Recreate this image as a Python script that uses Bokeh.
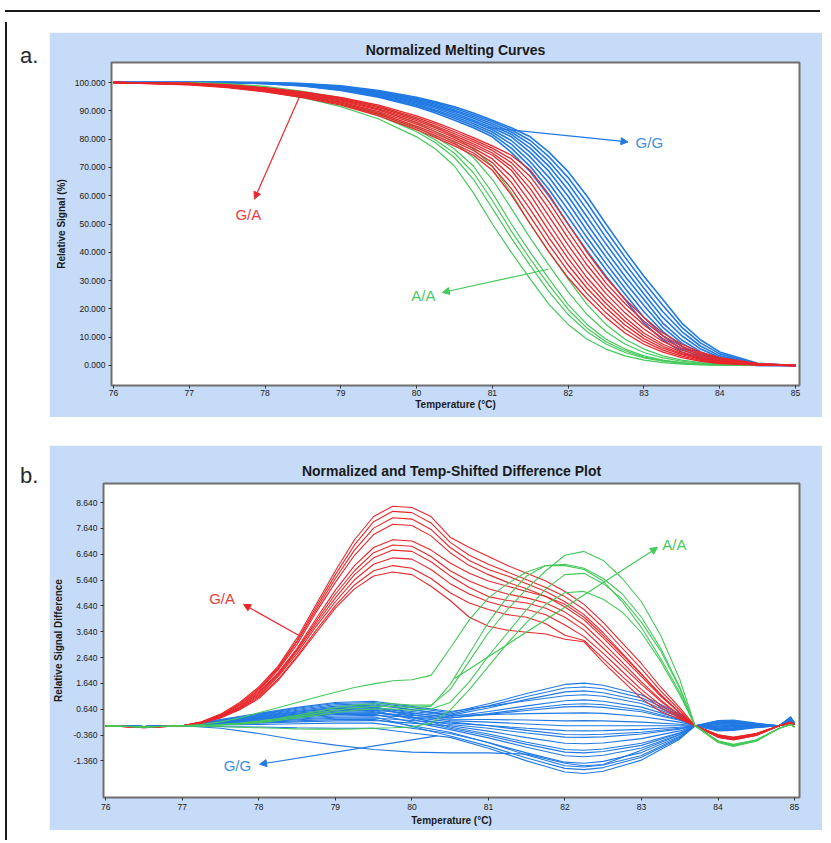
from bokeh.plotting import figure
from bokeh.models import (FixedTicker, PrintfTickFormatter, Label, Arrow, NormalHead,
                          Div, Spacer, Range1d)
from bokeh.layouts import column, row
from bokeh.embed import file_html
from bokeh.resources import INLINE

# ---------------- data: panel a (normalized melting curves) ----------------
TA = [76.0, 77.0, 77.5, 78.0, 78.5, 79.0, 79.5, 80.0, 80.25, 80.5, 80.75, 81.0, 81.25,
      81.5, 81.75, 82.0, 82.25, 82.5, 82.75, 83.0, 83.25, 83.5, 83.75, 84.0, 84.5, 85.0]

A_GG = [
    [100, 100, 100, 99.6, 98.8, 97.2, 94.8, 91.4, 89.2, 86.7, 84.0, 80.8, 75.3, 68.5, 59.8, 50.0, 40.5, 31.5, 23.3, 15.0, 9.0, 4.8, 2.2, 0.8, 0.0, 0.0],
    [100, 100, 100, 99.7, 98.9, 97.4, 95.1, 91.9, 89.8, 87.4, 84.7, 81.7, 76.8, 70.3, 62.1, 52.5, 42.9, 33.8, 25.3, 17.0, 10.5, 5.8, 2.8, 1.1, 0.0, 0.0],
    [100, 100, 100, 99.7, 99.0, 97.6, 95.4, 92.3, 90.3, 88.0, 85.4, 82.5, 78.2, 72.0, 64.3, 55.0, 45.2, 36.0, 27.3, 19.0, 12.0, 6.8, 3.4, 1.4, 0.1, 0.0],
    [100, 100, 100, 99.8, 99.1, 97.8, 95.7, 92.8, 90.9, 88.6, 86.1, 83.3, 79.5, 73.7, 66.4, 57.4, 47.6, 38.3, 29.4, 21.2, 13.5, 7.9, 4.1, 1.8, 0.2, 0.0],
    [100, 100, 100, 99.8, 99.2, 98.0, 96.0, 93.2, 91.4, 89.2, 86.7, 84.0, 80.8, 75.3, 68.5, 59.8, 50.0, 40.5, 31.5, 23.3, 15.0, 9.0, 4.8, 2.2, 0.2, 0.0],
    [100, 100, 100, 99.9, 99.3, 98.2, 96.3, 93.6, 91.9, 89.8, 87.4, 84.7, 81.7, 76.8, 70.3, 62.1, 52.5, 42.9, 33.8, 25.3, 17.0, 10.5, 5.8, 2.8, 0.3, 0.0],
    [100, 100, 100, 99.9, 99.4, 98.4, 96.6, 94.0, 92.3, 90.3, 88.0, 85.4, 82.5, 78.2, 72.0, 64.3, 55.0, 45.2, 36.0, 27.3, 19.0, 12.0, 6.8, 3.4, 0.4, 0.0],
    [100, 100, 100, 100, 99.5, 98.6, 96.9, 94.4, 92.8, 90.9, 88.6, 86.1, 83.3, 79.5, 73.7, 66.4, 57.4, 47.6, 38.3, 29.4, 21.2, 13.5, 7.9, 4.1, 0.6, 0.0],
    [100, 100, 100, 100, 99.6, 98.8, 97.2, 94.8, 93.2, 91.4, 89.2, 86.7, 84.0, 80.8, 75.3, 68.5, 59.8, 50.0, 40.5, 31.5, 23.3, 15.0, 9.0, 4.8, 0.8, 0.0],
]

A_GA = [
    [100, 99.2, 98.2, 96.7, 94.7, 92.0, 88.2, 83.3, 80.5, 77.6, 74.3, 69.0, 60.3, 50.0, 40.0, 31.0, 23.5, 17.0, 11.5, 7.5, 4.7, 2.8, 1.5, 0.7, 0.1, 0.0],
    [100, 99.3, 98.4, 96.9, 95.0, 92.4, 88.7, 84.0, 81.2, 78.3, 75.1, 70.3, 62.5, 52.6, 42.5, 33.3, 25.4, 18.6, 12.9, 8.5, 5.4, 3.3, 1.8, 0.9, 0.2, 0.0],
    [100, 99.4, 98.5, 97.1, 95.3, 92.8, 89.2, 84.6, 81.9, 79.1, 76.0, 71.7, 64.7, 55.2, 45.0, 35.5, 27.3, 20.3, 14.3, 9.5, 6.1, 3.8, 2.2, 1.1, 0.2, 0.0],
    [100, 99.4, 98.7, 97.3, 95.5, 93.1, 89.7, 85.3, 82.6, 79.8, 76.8, 73.0, 66.8, 57.7, 47.5, 37.8, 29.1, 21.9, 15.6, 10.5, 6.8, 4.2, 2.5, 1.3, 0.3, 0.0],
    [100, 99.5, 98.8, 97.5, 95.8, 93.5, 90.2, 85.9, 83.3, 80.5, 77.6, 74.3, 69.0, 60.3, 50.0, 40.0, 31.0, 23.5, 17.0, 11.5, 7.5, 4.7, 2.8, 1.5, 0.3, 0.0],
    [100, 99.6, 98.9, 97.7, 96.0, 93.8, 90.7, 86.5, 84.0, 81.2, 78.3, 75.1, 70.3, 62.5, 52.6, 42.5, 33.3, 25.4, 18.6, 12.9, 8.5, 5.4, 3.3, 1.8, 0.4, 0.0],
    [100, 99.7, 99.0, 97.9, 96.3, 94.1, 91.1, 87.1, 84.6, 81.9, 79.1, 76.0, 71.7, 64.7, 55.2, 45.0, 35.5, 27.3, 20.3, 14.3, 9.5, 6.1, 3.8, 2.2, 0.5, 0.0],
    [100, 99.7, 99.1, 98.0, 96.5, 94.4, 91.6, 87.6, 85.3, 82.6, 79.8, 76.8, 73.0, 66.8, 57.7, 47.5, 37.8, 29.1, 21.9, 15.6, 10.5, 6.8, 4.2, 2.5, 0.6, 0.0],
    [100, 99.8, 99.2, 98.2, 96.7, 94.7, 92.0, 88.2, 85.9, 83.3, 80.5, 77.6, 74.3, 69.0, 60.3, 50.0, 40.0, 31.0, 23.5, 17.0, 11.5, 7.5, 4.7, 2.8, 0.7, 0.0],
]

A_AA = [
    [100, 99.6, 98.6, 96.9, 94.6, 91.5, 87.1, 80.8, 76.5, 70.5, 61.0, 50.0, 40.0, 30.5, 21.5, 14.5, 9.3, 5.8, 3.4, 1.9, 1.0, 0.5, 0.2, 0.1, 0.0, 0.0],
    [100, 99.8, 98.9, 97.4, 95.2, 92.4, 88.3, 82.6, 78.7, 73.5, 65.8, 55.5, 45.0, 35.3, 26.0, 18.0, 11.9, 7.6, 4.6, 2.7, 1.5, 0.8, 0.4, 0.2, 0.0, 0.0],
    [100, 99.8, 99.1, 97.6, 95.5, 92.8, 88.9, 83.4, 79.7, 75.0, 68.1, 58.3, 47.5, 37.6, 28.3, 19.8, 13.2, 8.4, 5.2, 3.0, 1.7, 0.9, 0.4, 0.2, 0.0, 0.0],
    [100, 99.9, 99.2, 97.8, 95.8, 93.2, 89.5, 84.3, 80.8, 76.5, 70.5, 61.0, 50.0, 40.0, 30.5, 21.5, 14.5, 9.3, 5.8, 3.4, 1.9, 1.0, 0.5, 0.2, 0.0, 0.0],
    [100, 100, 99.4, 98.2, 96.4, 93.9, 90.5, 85.7, 82.6, 78.7, 73.5, 65.8, 55.5, 45.0, 35.3, 26.0, 18.0, 11.9, 7.6, 4.6, 2.7, 1.5, 0.8, 0.4, 0.1, 0.0],
    [100, 100, 99.6, 98.6, 96.9, 94.6, 91.5, 87.1, 84.3, 80.8, 76.5, 70.5, 61.0, 50.0, 40.0, 30.5, 21.5, 14.5, 9.3, 5.8, 3.4, 1.9, 1.0, 0.5, 0.1, 0.0],
]

# ---------------- data: panel b (difference plot) ----------------
TB = [76.0, 76.5, 77.0, 77.25, 77.5, 77.75, 78.0, 78.25, 78.5, 78.75, 79.0, 79.25, 79.5,
      79.75, 80.0, 80.25, 80.5, 80.75, 81.0, 81.25, 81.5, 81.75, 82.0, 82.25, 82.5, 82.75,
      83.0, 83.25, 83.5, 83.7, 84.0, 84.2, 84.5, 84.8, 84.95, 85.0]

B_GA = [
    [0.0, -0.05, 0.0, 0.15, 0.45, 0.9, 1.5, 2.3, 3.4, 4.7, 6.0, 7.2, 8.1, 8.5, 8.45, 8.1, 7.3, 6.9, 6.55, 6.2, 5.9, 5.6, 5.2, 4.7, 4.0, 3.2, 2.4, 1.5, 0.7, 0.0, -0.35, -0.45, -0.3, 0.0, 0.15, 0.05],
    [0.0, -0.05, 0.0, 0.14, 0.42, 0.85, 1.45, 2.25, 3.3, 4.6, 5.85, 7.0, 7.9, 8.3, 8.25, 7.85, 7.1, 6.6, 6.25, 5.95, 5.65, 5.35, 5.0, 4.5, 3.8, 3.0, 2.2, 1.35, 0.6, 0.0, -0.35, -0.45, -0.3, 0.0, 0.12, 0.05],
    [0.0, -0.05, 0.0, 0.13, 0.4, 0.8, 1.4, 2.2, 3.25, 4.5, 5.7, 6.8, 7.65, 8.05, 8.0, 7.6, 6.9, 6.4, 6.05, 5.8, 5.5, 5.2, 4.8, 4.3, 3.6, 2.8, 2.0, 1.2, 0.5, 0.0, -0.38, -0.48, -0.32, 0.0, 0.12, 0.05],
    [0.0, -0.06, 0.0, 0.13, 0.4, 0.8, 1.35, 2.15, 3.15, 4.4, 5.55, 6.6, 7.4, 7.8, 7.75, 7.35, 6.7, 6.2, 5.85, 5.55, 5.3, 5.0, 4.6, 4.1, 3.4, 2.65, 1.9, 1.15, 0.5, 0.0, -0.38, -0.48, -0.32, 0.0, 0.1, 0.05],
    [0.0, -0.06, 0.0, 0.12, 0.38, 0.75, 1.3, 2.05, 3.0, 4.15, 5.25, 6.2, 6.9, 7.2, 7.15, 6.8, 6.3, 5.9, 5.6, 5.4, 5.2, 5.0, 4.7, 4.2, 3.5, 2.75, 2.0, 1.2, 0.5, 0.0, -0.4, -0.5, -0.35, 0.0, 0.1, 0.05],
    [0.0, -0.06, 0.0, 0.12, 0.36, 0.72, 1.25, 2.0, 2.95, 4.05, 5.1, 6.0, 6.7, 7.0, 6.95, 6.55, 6.0, 5.6, 5.3, 5.1, 4.95, 4.75, 4.4, 3.9, 3.2, 2.45, 1.7, 1.0, 0.4, 0.0, -0.4, -0.5, -0.35, 0.0, 0.1, 0.05],
    [0.0, -0.07, 0.0, 0.11, 0.35, 0.7, 1.2, 1.95, 2.9, 3.95, 4.95, 5.85, 6.5, 6.8, 6.75, 6.35, 5.8, 5.35, 5.0, 4.85, 4.75, 4.55, 4.2, 3.7, 3.0, 2.3, 1.6, 0.95, 0.4, 0.0, -0.42, -0.52, -0.36, 0.0, 0.1, 0.05],
    [0.0, -0.07, 0.0, 0.11, 0.34, 0.68, 1.15, 1.9, 2.8, 3.85, 4.8, 5.65, 6.25, 6.5, 6.45, 6.05, 5.5, 5.1, 4.8, 4.6, 4.5, 4.3, 3.9, 3.45, 2.8, 2.1, 1.4, 0.8, 0.35, 0.0, -0.42, -0.52, -0.36, 0.0, 0.1, 0.05],
    [0.0, -0.08, 0.0, 0.1, 0.32, 0.65, 1.1, 1.8, 2.7, 3.7, 4.65, 5.45, 6.0, 6.2, 6.1, 5.7, 5.15, 4.75, 4.5, 4.3, 4.2, 3.95, 3.5, 3.3, 2.6, 1.9, 1.25, 0.7, 0.3, 0.0, -0.44, -0.54, -0.38, 0.0, 0.1, 0.05],
    [0.0, -0.08, 0.0, 0.1, 0.3, 0.62, 1.05, 1.75, 2.65, 3.6, 4.55, 5.3, 5.8, 5.95, 5.85, 5.4, 4.85, 4.2, 3.85, 3.7, 3.62, 3.55, 3.35, 3.25, 2.45, 1.75, 1.05, 0.55, 0.25, 0.0, -0.45, -0.55, -0.38, 0.0, 0.1, 0.05],
]

B_AA = [
    [0.0, -0.05, 0.0, 0.05, 0.15, 0.3, 0.5, 0.7, 0.9, 1.1, 1.3, 1.48, 1.62, 1.74, 1.78, 1.95, 3.0, 4.1, 4.95, 5.5, 5.95, 6.2, 6.2, 6.05, 5.6, 4.8, 3.8, 2.6, 1.3, 0.0, -0.6, -0.75, -0.55, -0.1, 0.05, -0.05],
    [0.0, -0.05, 0.0, 0.0, 0.05, 0.1, 0.18, 0.28, 0.4, 0.55, 0.7, 0.8, 0.85, 0.85, 0.8, 0.8, 1.4, 2.5, 3.6, 4.5, 5.3, 6.0, 6.6, 6.75, 6.4, 5.7, 4.8, 3.5, 1.8, 0.0, -0.65, -0.8, -0.6, -0.1, 0.05, -0.05],
    [0.0, -0.05, 0.0, 0.0, 0.04, 0.08, 0.15, 0.24, 0.35, 0.48, 0.6, 0.7, 0.75, 0.75, 0.7, 0.75, 1.6, 2.8, 4.0, 5.0, 5.8, 6.2, 6.25, 6.1, 5.7, 5.1, 4.2, 3.0, 1.5, 0.0, -0.62, -0.78, -0.58, -0.1, 0.05, -0.05],
    [0.0, -0.05, 0.0, 0.0, 0.03, 0.07, 0.12, 0.2, 0.3, 0.4, 0.5, 0.6, 0.65, 0.65, 0.6, 0.65, 0.9, 1.7, 2.7, 3.6, 4.5, 5.3, 5.85, 5.9, 5.5, 4.9, 4.0, 2.9, 1.45, 0.0, -0.6, -0.75, -0.55, -0.1, 0.05, -0.05],
    [0.0, -0.05, 0.0, -0.02, -0.04, -0.06, -0.08, -0.1, -0.12, -0.13, -0.13, -0.12, -0.1, -0.08, -0.05, 0.1, 0.6, 1.4, 2.3, 3.2, 4.0, 4.7, 5.15, 5.2, 4.9, 4.4, 3.6, 2.5, 1.2, 0.0, -0.58, -0.72, -0.55, -0.1, 0.05, -0.05],
]

TBB = [76.0, 76.5, 77.0, 77.5, 78.0, 78.5, 79.0, 79.5, 80.0, 80.5, 81.0, 81.5, 82.0, 82.25,
       82.5, 83.0, 83.5, 83.7, 84.0, 84.2, 84.5, 84.8, 84.95, 85.0]

B_GG = [
    [0.0, -0.03, 0.0, 0.23, 0.45, 0.68, 0.86, 0.9, 0.7, 0.5, 0.85, 1.25, 1.6, 1.65, 1.57, 1.19, 0.46, 0.0, 0.2, 0.22, 0.1, 0.0, 0.35, 0.1],
    [0.0, -0.03, 0.0, 0.2, 0.4, 0.6, 0.76, 0.8, 0.62, 0.45, 0.77, 1.13, 1.46, 1.5, 1.43, 1.08, 0.42, 0.0, 0.18, 0.2, 0.08, 0.0, 0.3, 0.1],
    [0.0, -0.03, 0.0, 0.18, 0.35, 0.53, 0.67, 0.7, 0.55, 0.4, 0.69, 1.02, 1.31, 1.35, 1.28, 0.97, 0.38, 0.0, 0.15, 0.17, 0.07, 0.0, 0.32, 0.1],
    [0.0, -0.03, 0.0, 0.24, 0.48, 0.71, 0.9, 0.95, 0.75, 0.55, 0.75, 0.97, 1.16, 1.2, 1.14, 0.86, 0.34, 0.0, 0.12, 0.15, 0.05, 0.0, 0.28, 0.1],
    [0.0, -0.03, 0.0, 0.18, 0.35, 0.53, 0.67, 0.7, 0.5, 0.3, 0.47, 0.66, 0.82, 0.85, 0.81, 0.61, 0.24, 0.0, 0.1, 0.12, 0.05, 0.0, 0.3, 0.1],
    [0.0, -0.03, 0.0, 0.15, 0.3, 0.45, 0.57, 0.6, 0.48, 0.35, 0.55, 0.77, 0.97, 1.0, 0.95, 0.72, 0.28, 0.0, 0.1, 0.12, 0.05, 0.0, 0.3, 0.1],
    [0.0, -0.03, 0.0, 0.13, 0.25, 0.38, 0.48, 0.5, 0.4, 0.3, 0.44, 0.59, 0.73, 0.75, 0.71, 0.54, 0.21, 0.0, 0.08, 0.1, 0.04, 0.0, 0.25, 0.1],
    [0.0, -0.03, 0.0, 0.21, 0.43, 0.64, 0.81, 0.85, 0.63, 0.4, 0.43, 0.47, 0.49, 0.5, 0.48, 0.36, 0.14, 0.0, 0.05, 0.08, 0.03, 0.0, 0.3, 0.1],
    [0.0, -0.03, 0.0, 0.1, 0.2, 0.3, 0.38, 0.4, 0.33, 0.25, 0.24, 0.22, 0.19, 0.2, 0.19, 0.14, 0.06, 0.0, 0.03, 0.05, 0.02, 0.0, 0.25, 0.1],
    [0.0, -0.03, 0.0, 0.16, 0.33, 0.49, 0.62, 0.65, 0.43, 0.2, 0.14, 0.07, 0.0, 0.0, 0.0, 0.0, 0.0, 0.0, 0.0, 0.02, 0.01, 0.0, 0.3, 0.1],
    [0.0, -0.03, 0.0, 0.08, 0.15, 0.23, 0.29, 0.3, 0.2, 0.1, 0.01, -0.1, -0.19, -0.2, -0.19, -0.14, -0.06, 0.0, -0.02, 0.0, 0.0, 0.0, 0.25, 0.1],
    [0.0, -0.03, 0.0, 0.13, 0.25, 0.38, 0.48, 0.5, 0.33, 0.15, 0.0, -0.18, -0.34, -0.35, -0.33, -0.25, -0.1, 0.0, -0.04, -0.02, 0.0, 0.0, 0.25, 0.1],
    [0.0, -0.03, 0.0, 0.14, 0.28, 0.41, 0.52, 0.55, 0.3, 0.05, -0.1, -0.28, -0.44, -0.45, -0.43, -0.32, -0.13, 0.0, -0.05, -0.03, -0.01, 0.0, 0.3, 0.1],
    [0.0, -0.03, 0.0, 0.05, 0.1, 0.15, 0.19, 0.2, 0.1, 0.0, -0.21, -0.46, -0.68, -0.7, -0.67, -0.5, -0.2, 0.0, -0.08, -0.06, -0.02, 0.0, 0.2, 0.1],
    [0.0, -0.03, 0.0, 0.19, 0.38, 0.56, 0.71, 0.75, 0.35, -0.05, -0.32, -0.64, -0.92, -0.95, -0.9, -0.68, -0.27, 0.0, -0.1, -0.08, -0.03, 0.0, 0.3, 0.1],
    [0.0, -0.03, 0.0, 0.15, 0.3, 0.45, 0.57, 0.6, 0.25, -0.1, -0.39, -0.72, -1.02, -1.05, -1.0, -0.76, -0.29, 0.0, -0.11, -0.09, -0.03, 0.0, 0.3, 0.1],
    [0.0, -0.03, 0.0, 0.11, 0.23, 0.34, 0.43, 0.45, 0.15, -0.15, -0.47, -0.83, -1.16, -1.2, -1.14, -0.86, -0.34, 0.0, -0.12, -0.1, -0.04, 0.0, 0.25, 0.1],
    [0.0, -0.03, 0.0, 0.03, 0.05, 0.08, 0.1, 0.1, -0.1, -0.3, -0.65, -1.05, -1.41, -1.45, -1.38, -1.04, -0.41, 0.0, -0.15, -0.12, -0.05, 0.0, 0.2, 0.1],
    [0.0, -0.03, 0.0, 0.06, 0.13, 0.19, 0.24, 0.25, 0.0, -0.25, -0.66, -1.13, -1.55, -1.6, -1.52, -1.15, -0.45, 0.0, -0.17, -0.14, -0.05, 0.0, 0.2, 0.1],
    [0.0, -0.03, 0.0, 0.09, 0.18, 0.26, 0.33, 0.35, -0.03, -0.4, -0.79, -1.25, -1.65, -1.7, -1.62, -1.22, -0.48, 0.0, -0.18, -0.15, -0.06, 0.0, 0.25, 0.1],
    [0.0, -0.03, 0.0, -0.03, -0.05, -0.08, -0.1, -0.1, -0.28, -0.45, -0.87, -1.36, -1.79, -1.85, -1.76, -1.33, -0.52, 0.0, -0.2, -0.18, -0.08, 0.0, 0.2, 0.1],
    [0.0, -0.03, 0.0, -0.1, -0.3, -0.55, -0.75, -0.92, -1.02, -1.05, -1.05, -1.1, -1.45, -1.55, -1.5, -0.95, -0.35, 0.0, -0.1, -0.12, -0.05, 0.0, 0.2, 0.1],
]

X_TICKS = [76, 77, 78, 79, 80, 81, 82, 83, 84, 85]
Y_TICKS_A = [0, 10, 20, 30, 40, 50, 60, 70, 80, 90, 100]
Y_TICKS_B = [-1.36, -0.36, 0.64, 1.64, 2.64, 3.64, 4.64, 5.64, 6.64, 7.64, 8.64]

TITLE_A = "Normalized Melting Curves"
TITLE_B = "Normalized and Temp-Shifted Difference Plot"
XLABEL = "Temperature (\u00b0C)"
YLABEL_A = "Relative Signal (%)"
YLABEL_B = "Relative Signal Difference"

# ---------------- style ----------------
FONT = "Liberation Sans"
BG = "#c6dbf7"
C_GG = "#2179e3"
C_GA = "#e8262b"
C_AA = "#45c95b"
T_GG = "#3c8ee8"
T_GA = "#ea3b3b"
T_AA = "#48c95e"


def make_fig(title, xr, yr, yticks, yfmt, ylabel, bl, br, bt, bb,
             ylab_standoff, title_standoff, xtick_standoff, xlab_standoff):
    p = figure(width=773, height=385, x_range=Range1d(*xr), y_range=Range1d(*yr),
               output_backend="svg", toolbar_location=None,
               min_border_left=bl, min_border_right=br, min_border_top=bt, min_border_bottom=bb,
               border_fill_color=BG, background_fill_color="white",
               outline_line_color="#6f6f6f", outline_line_width=2)
    p.title.text = title
    p.title.align = "center"
    p.title.text_font = FONT
    p.title.text_font_size = "14px"
    p.title.text_font_style = "bold"
    p.title.text_color = "#1a1a1a"
    p.title.standoff = title_standoff
    p.xgrid.visible = False
    p.ygrid.visible = False
    for ax in (p.xaxis[0], p.yaxis[0]):
        ax.axis_line_color = None
        ax.major_tick_line_color = "#333333"
        ax.major_tick_out = 3
        ax.major_tick_in = 0
        ax.minor_tick_line_color = None
        ax.major_label_text_font = FONT
        ax.major_label_text_font_size = "8.5px"
        ax.major_label_text_color = "#1a1a1a"
        ax.major_label_standoff = 3
        ax.axis_label_text_font = FONT
        ax.axis_label_text_font_style = "bold"
        ax.axis_label_text_font_size = "10px"
        ax.axis_label_text_color = "#1a1a1a"
    p.xaxis[0].ticker = FixedTicker(ticks=X_TICKS)
    p.xaxis[0].axis_label = XLABEL
    p.xaxis[0].major_label_standoff = xtick_standoff
    p.xaxis[0].axis_label_standoff = xlab_standoff
    p.yaxis[0].ticker = FixedTicker(ticks=yticks)
    p.yaxis[0].formatter = PrintfTickFormatter(format=yfmt)
    p.yaxis[0].axis_label = ylabel
    p.yaxis[0].axis_label_standoff = ylab_standoff
    return p


def add_text(p, x, y, txt, color, align="center"):
    p.add_layout(Label(x=x, y=y, text=txt, text_color=color, text_font=FONT,
                       text_font_size="15px", text_align=align, text_baseline="middle"))


def add_arrow(p, x0, y0, x1, y1, color):
    p.add_layout(Arrow(end=NormalHead(size=7, fill_color=color, line_color=color),
                       x_start=x0, y_start=y0, x_end=x1, y_end=y1,
                       line_color=color, line_width=1.2))


# ---------------- panel a ----------------
pa = make_fig(TITLE_A, (75.974, 85.053), (-7.07, 107.07), Y_TICKS_A, "%.3f", YLABEL_A,
              62, 23, 30, 32, 5, 9, 1, 0)
pa.multi_line(xs=[TA] * len(A_GG), ys=A_GG, line_color=C_GG, line_width=1.6)
pa.multi_line(xs=[TA] * len(A_AA), ys=A_AA, line_color=C_AA, line_width=1.2)
pa.multi_line(xs=[TA] * len(A_GA), ys=A_GA, line_color=C_GA, line_width=1.3)
add_arrow(pa, 80.93, 84.1, 82.79, 79.0, C_GG)
add_text(pa, 82.89, 78.8, "G/G", T_GG, "left")
add_arrow(pa, 78.45, 94.7, 77.86, 58.8, C_GA)
add_text(pa, 77.78, 53.5, "G/A", T_GA)
add_arrow(pa, 81.74, 34.0, 80.34, 25.8, C_AA)
add_text(pa, 80.09, 24.7, "A/A", T_AA)

# ---------------- panel b ----------------
pb = make_fig(TITLE_B, (75.970, 85.065), (-2.778, 9.378), Y_TICKS_B, "%.3f", YLABEL_B,
              54, 23, 38, 33, 6, 10, 3, 2)
pb.multi_line(xs=[TBB] * len(B_GG), ys=B_GG, line_color=C_GG, line_width=1.1)
pb.multi_line(xs=[TB] * len(B_GA), ys=B_GA, line_color=C_GA, line_width=1.1)
pb.multi_line(xs=[TB] * len(B_AA), ys=B_AA, line_color=C_AA, line_width=1.1)
add_arrow(pb, 78.53, 3.48, 77.80, 4.70, C_GA)
add_text(pb, 77.52, 4.93, "G/A", T_GA)
add_arrow(pb, 80.56, 1.83, 83.21, 6.90, C_AA)
add_text(pb, 83.43, 7.03, "A/A", T_AA)
add_arrow(pb, 80.33, -0.39, 78.01, -1.49, C_GG)
add_text(pb, 77.72, -1.55, "G/G", T_GG)

# ---------------- page layout ----------------
lab_style = {"font-family": FONT, "font-size": "22px", "color": "#2a2a2a", "line-height": "22px"}
div_a = Div(text="a.", width=29, height=26, margin=(28, 0, 0, 8), styles=lab_style)
div_b = Div(text="b.", width=29, height=26, margin=(48, 0, 0, 8), styles=lab_style)
pa.margin = (15, 0, 0, 0)
pb.margin = (28, 0, 0, 0)

row_a = row(div_a, pa)
row_b = row(div_b, pb)
content = column(row_a, row_b)

top_line = Div(text="", width=815, height=2, styles={"background-color": "#1a1a1a"})
left_line = Div(text="", width=2, height=818, styles={"background-color": "#1a1a1a"})
root = column(Spacer(height=5), top_line, row(left_line, content))

open("out.html", "w").write(file_html(root, INLINE))
